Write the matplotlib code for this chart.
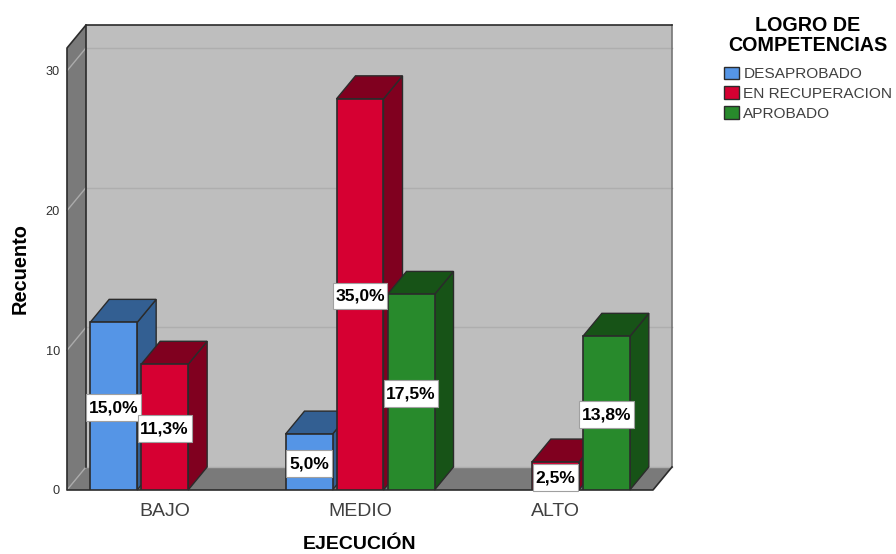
import matplotlib
matplotlib.use("Agg")
import matplotlib.pyplot as plt
from matplotlib.patches import Patch

plt.rcParams['font.family'] = ['Liberation Sans', 'DejaVu Sans']

categories = ["BAJO", "MEDIO", "ALTO"]
series_names = ["DESAPROBADO", "EN RECUPERACION", "APROBADO"]
desaprobado = [12, 4, 0]
recuperacion = [9, 28, 2]
aprobado = [0, 14, 11]
pct_desaprobado = ["15,0%", "5,0%", ""]
pct_recuperacion = ["11,3%", "35,0%", "2,5%"]
pct_aprobado = ["", "17,5%", "13,8%"]
y_ticks = [0, 10, 20, 30]
face_colors = ["#5595E6", "#D60032", "#288A2C"]
top_colors = ["#335F92", "#80001F", "#175317"]

W, H = 896, 554
fig = plt.figure(figsize=(W / 100, H / 100), dpi=100)
L, R, B, T = 67, 653, 490, 48
ax = fig.add_axes([L / W, 1 - B / H, (R - L) / W, (B - T) / H])
ax.set_xlim(-0.5, 2.5)
ax.set_ylim(0, (B - T) / 13.97)
ymax = ax.get_ylim()[1]

# depth of the pseudo-3D box and bars, in data units
dx = 19 / ((R - L) / 3)
dy = 23 / 13.97
x0, x1 = -0.5, 2.5
edge = "#2b2b2b"

# walls and floor
ax.fill([x0 + dx, x1 + dx, x1 + dx, x0 + dx], [dy, dy, ymax + dy, ymax + dy],
        fc="#BEBEBE", ec="none", zorder=1, clip_on=False)
ax.fill([x0, x0 + dx, x0 + dx, x0], [0, dy, ymax + dy, ymax],
        fc="#7A7A7A", ec="none", zorder=1, clip_on=False)
ax.fill([x0, x1, x1 + dx, x0 + dx], [0, 0, dy, dy],
        fc="#7A7A7A", ec="none", zorder=1, clip_on=False)
for t in y_ticks:
    ax.plot([x0, x0 + dx], [t, t + dy], color="#ABABAB", lw=1, zorder=1.5, clip_on=False)
    ax.plot([x0 + dx, x1 + dx], [t + dy, t + dy], color="#AEAEAE", lw=1, zorder=1.5, clip_on=False)
ax.plot([x1 + dx, x1 + dx], [dy, ymax + dy], color="#777777", lw=1.2, zorder=2, clip_on=False)
ax.plot([x1 + dx, x1, x0, x0, x0 + dx, x1 + dx], [dy, 0, 0, ymax, ymax + dy, ymax + dy],
        color=edge, lw=1.2, zorder=2, clip_on=False)
ax.plot([x0 + dx, x0 + dx], [ymax + dy, dy], color=edge, lw=1.2, zorder=2, clip_on=False)

# bars
step = 51 / ((R - L) / 3)
width = 47 / ((R - L) / 3)
all_series = [desaprobado, recuperacion, aprobado]
all_pct = [pct_desaprobado, pct_recuperacion, pct_aprobado]
z = 3
for c in range(len(categories)):
    for s, vals in enumerate(all_series):
        v = vals[c]
        if v == 0:
            continue
        xc = c + (s - 1) * step
        a, b = xc - width / 2, xc + width / 2
        ax.fill([b, b + dx, b + dx, b], [0, dy, v + dy, v],
                fc=top_colors[s], ec=edge, lw=1, zorder=z, clip_on=False)
        ax.fill([a, a + dx, b + dx, b], [v, v + dy, v + dy, v],
                fc=top_colors[s], ec=edge, lw=1, zorder=z, clip_on=False)
        ax.bar(xc, v, width=width, color=face_colors[s], edgecolor=edge, lw=1.2, zorder=z + 0.1)
        z += 1
for c in range(len(categories)):
    for s, vals in enumerate(all_series):
        if vals[c] == 0:
            continue
        xc = c + (s - 1) * step
        ax.text(xc, vals[c] / 2, all_pct[s][c], ha="center", va="center_baseline",
                fontsize=12.6, fontweight="bold", color="black", zorder=50,
                bbox=dict(boxstyle="square,pad=0.15", mutation_aspect=2.2,
                          fc="white", ec="#A0A0A0", lw=0.8))

# axes
for sp in ax.spines.values():
    sp.set_visible(False)
ax.set_xticks(range(len(categories)), categories)
ax.set_yticks(y_ticks)
ax.tick_params(axis="x", length=0, pad=9.5, labelsize=14, labelcolor="#404040")
ax.tick_params(axis="y", length=0, pad=5, labelsize=9.2, labelcolor="#303030")
ax.set_xlabel("EJECUCIÓN", fontsize=14, fontweight="bold", va="center")
ax.xaxis.set_label_coords(0.5, (B - 544.5) / (B - T))
ax.set_ylabel("Recuento", fontsize=14.4, fontweight="bold", va="center")
ax.yaxis.set_label_coords((20 - L) / (R - L), 0.5)

handles = [Patch(fc=fc, ec=edge, lw=1) for fc in face_colors]
leg = fig.legend(handles, series_names, loc="upper left",
                 bbox_to_anchor=(724 / W, 1 - 16 / H), bbox_transform=fig.transFigure,
                 frameon=False, fontsize=11.1, borderpad=0, borderaxespad=0,
                 handlelength=1.0, handleheight=0.9, handletextpad=0.25,
                 labelspacing=0.33, labelcolor="#404040",
                 title="LOGRO DE\nCOMPETENCIAS", alignment="left",
                 title_fontproperties={"size": 14.2, "weight": "bold", "family": "Liberation Sans"})
title = leg.get_title()
title.set_linespacing(1.05)
title.set_multialignment("center")
leg._legend_box.sep = 8.5
title.set_position((4, 0))

fig.savefig("out.png", dpi=100)
